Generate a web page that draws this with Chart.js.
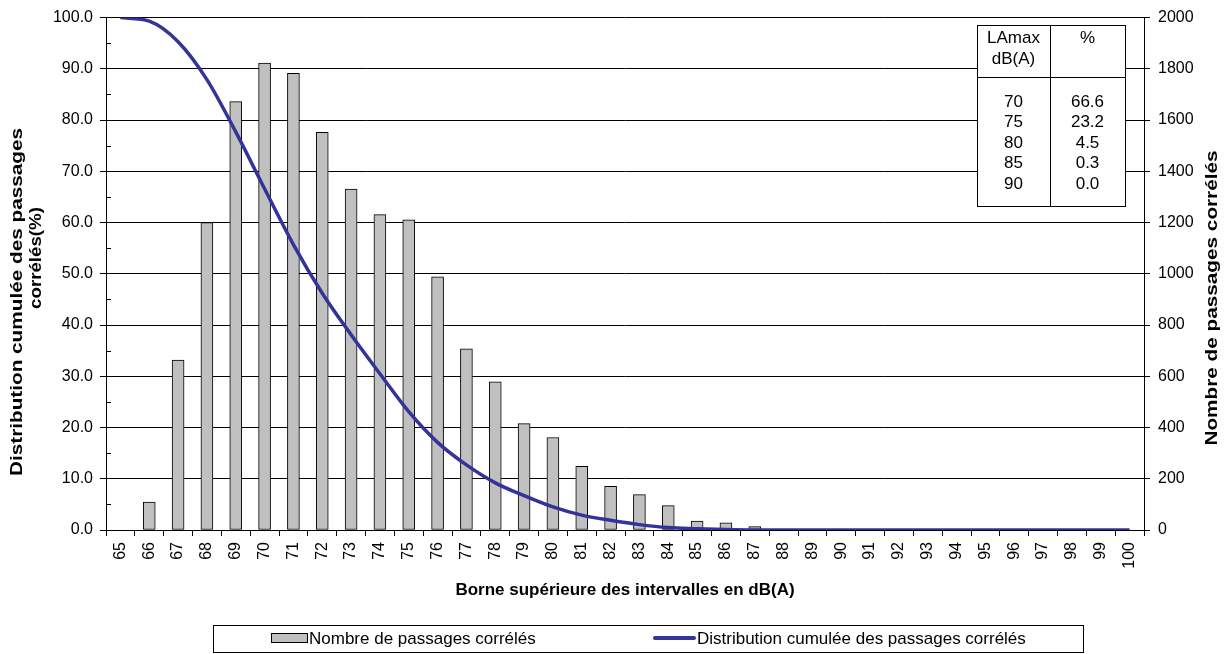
<!DOCTYPE html>
<html>
<head>
<meta charset="utf-8">
<title>Distribution des passages corrélés</title>
<script src="https://cdn.jsdelivr.net/npm/chart.js@4.4.1/dist/chart.umd.min.js"></script>
<style>
    body { margin: 0; background: #ffffff; }
    #chartBox { width: 1231px; height: 654px; }
</style>
</head>
<body>
<div id="chartBox"><canvas id="chart"></canvas></div>
<script>
// x-axis categories (upper bound of each interval, dB(A))
let categories = ["65", "66", "67", "68", "69", "70", "71", "72", "73", "74", "75", "76",
    "77", "78", "79", "80", "81", "82", "83", "84", "85", "86", "87", "88",
    "89", "90", "91", "92", "93", "94", "95", "96", "97", "98", "99", "100"];

// number of correlated passages per interval (right axis)
let passages = [0, 109, 663, 1200, 1672, 1822, 1782, 1552, 1331, 1231, 1211, 988,
    707, 578, 415, 361, 249, 170, 138, 95, 35, 28, 13, 0,
    0, 0, 0, 0, 0, 0, 0, 0, 0, 0, 0, 0];

// cumulated distribution in % (left axis)
let cumulee = [100.0, 99.3, 95.3, 87.9, 77.7, 66.6, 55.7, 46.2, 38.1, 30.5, 23.1, 17.1,
    12.7, 9.2, 6.7, 4.5, 2.9, 1.9, 1.05, 0.47, 0.25, 0.08, 0.0, 0.0,
    0.0, 0.0, 0.0, 0.0, 0.0, 0.0, 0.0, 0.0, 0.0, 0.0, 0.0, 0.0];

// small summary table in the top right corner
let tableHeader = [["LAmax", "dB(A)"], ["%"]];
let tableLAmax = ["70", "75", "80", "85", "90"];
let tablePercent = ["66.6", "23.2", "4.5", "0.3", "0.0"];

let leftTicks = [0, 10, 20, 30, 40, 50, 60, 70, 80, 90, 100];
let rightTicks = [0, 200, 400, 600, 800, 1000, 1200, 1400, 1600, 1800, 2000];

const barLabel = "Nombre de passages corrélés";
const lineLabel = "Distribution cumulée des passages corrélés";
const lineColor = "#333399";
const barColor = "#c0c0c0";
const fontFamily = "Arial, 'Liberation Sans', sans-serif";

/**
 * @brief draws a vertical (bottom to top) title, stretched along its length
 * @param ctx {object} canvas context
 * @param text {string} the title
 * @param x {number} center x
 * @param y {number} center y
 * @param stretch {number} scale factor along the text direction
 */
function drawVerticalTitle(ctx, text, x, y, stretch) {
    ctx.save();
    ctx.translate(x, y);
    ctx.rotate(-Math.PI / 2);
    ctx.scale(stretch, 1);
    ctx.fillText(text, 0, 0);
    ctx.restore();
}

/**
 * @desc draws axis titles, minor ticks, the summary table and the framed legend
 */
const extrasPlugin = {
    id: "extras",
    afterDraw(chart) {
        const ctx = chart.ctx;
        const area = chart.chartArea;
        const yLeft = chart.scales.y;

        ctx.save();

        // minor ticks on the left axis (every 5 %)
        ctx.strokeStyle = "#000";
        ctx.lineWidth = 1;
        for (let v = 5; v < 100; v += 10) {
            let py = Math.round(yLeft.getPixelForValue(v)) + 0.5;
            ctx.beginPath();
            ctx.moveTo(area.left, py);
            ctx.lineTo(area.left + 5, py);
            ctx.stroke();
        }

        // axis titles
        ctx.fillStyle = "#000";
        ctx.textAlign = "center";
        ctx.textBaseline = "middle";

        ctx.font = "bold 17px " + fontFamily;
        drawVerticalTitle(ctx, "Distribution cumulée des passages", 17, 302, 1.22);
        drawVerticalTitle(ctx, "corrélés(%)", 36, 258, 1.1);
        drawVerticalTitle(ctx, "Nombre de passages corrélés", 1212, 298, 1.22);

        ctx.fillText("Borne supérieure des intervalles en dB(A)", (area.left + area.right) / 2, 590);

        // summary table
        let tx = 977, ty = 25, tw = 148, th = 181, colX = 1050, headY = 77;
        ctx.fillStyle = "#fff";
        ctx.fillRect(tx, ty, tw, th);
        ctx.strokeStyle = "#000";
        ctx.strokeRect(tx + 0.5, ty + 0.5, tw, th);
        ctx.beginPath();
        ctx.moveTo(colX + 0.5, ty);
        ctx.lineTo(colX + 0.5, ty + th);
        ctx.moveTo(tx, headY + 0.5);
        ctx.lineTo(tx + tw, headY + 0.5);
        ctx.stroke();

        ctx.fillStyle = "#000";
        ctx.font = "17px " + fontFamily;
        let leftCenter = (tx + colX) / 2;
        let rightCenter = (colX + tx + tw) / 2;
        ctx.fillText(tableHeader[0][0], leftCenter, 38);
        ctx.fillText(tableHeader[0][1], leftCenter, 59);
        ctx.fillText(tableHeader[1][0], rightCenter, 38);
        for (let i = 0; i < tableLAmax.length; i++) {
            let rowY = 102 + i * 20.5;
            ctx.fillText(tableLAmax[i], leftCenter, rowY);
            ctx.fillText(tablePercent[i], rightCenter, rowY);
        }

        // legend with its frame
        ctx.strokeRect(213.5, 625.5, 870, 27);
        ctx.fillStyle = barColor;
        ctx.fillRect(271, 633, 36, 9);
        ctx.strokeRect(271.5, 633.5, 36, 9);

        ctx.strokeStyle = lineColor;
        ctx.lineWidth = 4;
        ctx.lineCap = "round";
        ctx.beginPath();
        ctx.moveTo(655, 638);
        ctx.lineTo(694, 638);
        ctx.stroke();

        ctx.fillStyle = "#000";
        ctx.textAlign = "left";
        ctx.font = "17px " + fontFamily;
        ctx.fillText(barLabel, 309, 639);
        ctx.fillText(lineLabel, 697, 639);

        ctx.restore();
    }
};

// white page background behind the canvas drawing
const backgroundPlugin = {
    id: "background",
    beforeDraw(chart) {
        const ctx = chart.ctx;
        ctx.save();
        ctx.fillStyle = "#fff";
        ctx.fillRect(0, 0, chart.width, chart.height);
        ctx.restore();
    }
};

window.onload = () => {
    let canvas = document.getElementById("chart");

    new Chart(canvas, {
        type: "bar",
        data: {
            labels: categories,
            datasets: [{
                type: "line",
                label: lineLabel,
                data: cumulee,
                yAxisID: "y",
                borderColor: lineColor,
                backgroundColor: lineColor,
                borderWidth: 3.5,
                pointRadius: 0,
                cubicInterpolationMode: "monotone",
                order: 0
            }, {
                type: "bar",
                label: barLabel,
                data: passages,
                yAxisID: "y1",
                backgroundColor: barColor,
                borderColor: "#000",
                borderWidth: 1,
                borderSkipped: false,
                barThickness: 12,
                order: 1
            }]
        },
        options: {
            responsive: true,
            maintainAspectRatio: false,
            animation: false,
            layout: { padding: { top: 13, left: 0, right: 0, bottom: 0 } },
            plugins: {
                legend: { display: false },
                tooltip: { enabled: false }
            },
            scales: {
                x: {
                    offset: true,
                    grid: {
                        offset: true,
                        drawOnChartArea: false,
                        color: "#000",
                        tickLength: 6
                    },
                    border: { color: "#000" },
                    ticks: {
                        color: "#000",
                        minRotation: 90,
                        maxRotation: 90,
                        autoSkip: false,
                        padding: 6,
                        font: { family: fontFamily, size: 16 }
                    },
                    afterFit: (scale) => { scale.height = 124; }
                },
                y: {
                    position: "left",
                    min: 0,
                    max: 100,
                    afterBuildTicks: (scale) => {
                        scale.ticks = leftTicks.map((v) => ({ value: v }));
                    },
                    ticks: {
                        color: "#000",
                        padding: 7,
                        font: { family: fontFamily, size: 16 },
                        callback: (value) => Number(value).toFixed(1)
                    },
                    grid: { color: "#000", tickLength: 6 },
                    border: { color: "#000" },
                    afterFit: (scale) => { scale.width = 106; }
                },
                y1: {
                    position: "right",
                    min: 0,
                    max: 2000,
                    afterBuildTicks: (scale) => {
                        scale.ticks = rightTicks.map((v) => ({ value: v }));
                    },
                    ticks: {
                        color: "#000",
                        padding: 8,
                        font: { family: fontFamily, size: 16 },
                        callback: (value) => String(value)
                    },
                    grid: { drawOnChartArea: false, color: "#000", tickLength: 6 },
                    border: { color: "#000" },
                    afterFit: (scale) => { scale.width = 87; }
                }
            }
        },
        plugins: [backgroundPlugin, extrasPlugin]
    });
};
</script>
</body>
</html>
